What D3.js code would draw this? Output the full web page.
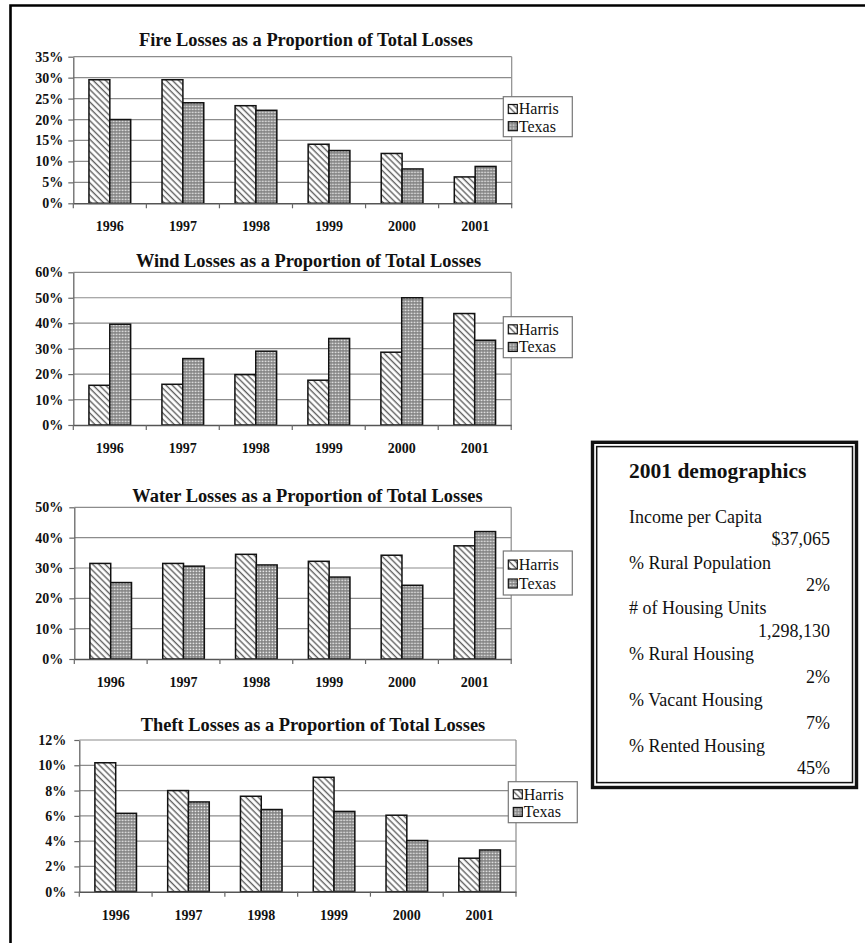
<!DOCTYPE html>
<html>
<head>
<meta charset="utf-8">
<script src="https://cdn.jsdelivr.net/npm/d3@7"></script>
<style>
  html, body { margin: 0; padding: 0; background: #fff; }
  svg { display: block; }
  text { font-family: "Liberation Serif", "Times New Roman", serif; fill: #111; }
</style>
</head>
<body>
<svg id="chart" width="865" height="943"></svg>
<script>
// ---- data ----
const years = ["1996", "1997", "1998", "1999", "2000", "2001"];
const seriesNames = ["Harris", "Texas"];

const fireHarris = [29.5, 29.5, 23.3, 14.1, 11.9, 6.3];
const fireTexas  = [20.0, 24.0, 22.2, 12.6, 8.2, 8.8];
const fireTicks  = [0, 5, 10, 15, 20, 25, 30, 35];

const windHarris = [15.6, 16.0, 19.8, 17.6, 28.6, 43.8];
const windTexas  = [39.6, 26.1, 29.0, 34.0, 50.0, 33.3];
const windTicks  = [0, 10, 20, 30, 40, 50, 60];

const waterHarris = [31.5, 31.5, 34.5, 32.2, 34.2, 37.3];
const waterTexas  = [25.2, 30.6, 31.0, 27.0, 24.3, 42.0];
const waterTicks  = [0, 10, 20, 30, 40, 50];

const theftHarris = [10.2, 8.0, 7.55, 9.05, 6.05, 2.65];
const theftTexas  = [6.2, 7.1, 6.5, 6.35, 4.05, 3.3];
const theftTicks  = [0, 2, 4, 6, 8, 10, 12];

const chartTitles = [
  "Fire Losses as a Proportion of Total Losses",
  "Wind Losses as a Proportion of Total Losses",
  "Water Losses as a Proportion of Total Losses",
  "Theft Losses as a Proportion of Total Losses"
];

const demoTitle  = "2001 demographics";
const demoLabels = ["Income per Capita", "% Rural Population", "# of Housing Units",
                    "% Rural Housing", "% Vacant Housing", "% Rented Housing"];
const demoValues = ["$37,065", "2%", "1,298,130", "2%", "7%", "45%"];

// ---- layout ----
const panels = [
  { harris: fireHarris,  texas: fireTexas,  ticks: fireTicks,
    x0: 73.3, x1: 511.7, top: 56.7, bottom: 203.3, titleX: 306, titleY: 45.7, gap: 10,
    lx: 503.3, ly: 96.7, lw: 69, lh: 40 },
  { harris: windHarris,  texas: windTexas,  ticks: windTicks,
    x0: 73.3, x1: 511.2, top: 272.3, bottom: 425, titleX: 308.5, titleY: 266.7, gap: 10,
    lx: 503.3, ly: 316.7, lw: 69, lh: 41 },
  { harris: waterHarris, texas: waterTexas, ticks: waterTicks,
    x0: 74.3, x1: 511.2, top: 507.3, bottom: 659, titleX: 307.5, titleY: 501.7, gap: 11,
    lx: 503.3, ly: 551, lw: 69, lh: 44 },
  { harris: theftHarris, texas: theftTexas, ticks: theftTicks,
    x0: 79.3, x1: 516, top: 740, bottom: 891.7, titleX: 313, titleY: 731, gap: 13,
    lx: 508.3, ly: 781.7, lw: 69, lh: 41 }
];

const svg = d3.select("#chart");
svg.append("rect").attr("width", 865).attr("height", 943).attr("fill", "#fff");

// ---- fill patterns ----
const defs = svg.append("defs");
const hatch = defs.append("pattern")
  .attr("id", "hatch").attr("patternUnits", "userSpaceOnUse")
  .attr("width", 4.4).attr("height", 4.4)
  .attr("patternTransform", "rotate(-45)");
hatch.append("rect").attr("width", 4.4).attr("height", 4.4).attr("fill", "#fff");
hatch.append("line").attr("x1", 1.2).attr("y1", 0).attr("x2", 1.2).attr("y2", 4.4)
  .attr("stroke", "#5f5f5f").attr("stroke-width", 1.4);

const dots = defs.append("pattern")
  .attr("id", "dots").attr("patternUnits", "userSpaceOnUse")
  .attr("width", 3).attr("height", 3);
dots.append("rect").attr("width", 3).attr("height", 3).attr("fill", "#808080");
dots.append("rect").attr("x", 0.6).attr("y", 0.6).attr("width", 1.6).attr("height", 1.6).attr("fill", "#ececec");

const fills = { Harris: "url(#hatch)", Texas: "url(#dots)" };

// ---- outer frame (open on the right and bottom) ----
svg.append("path")
  .attr("d", d3.line()([[10.5, 943], [10.5, 5.5], [865, 5.5]]))
  .attr("fill", "none").attr("stroke", "#000").attr("stroke-width", 2.6);

// ---- one bar chart per panel ----
panels.forEach((p, i) => {
  const g = svg.append("g");
  const x = d3.scaleBand().domain(years).range([p.x0, p.x1]);
  const xs = d3.scaleBand().domain(seriesNames).range([0, x.bandwidth()])
    .paddingInner(0).paddingOuter(0.75);
  const yMax = p.ticks[p.ticks.length - 1];
  const y = d3.scaleLinear().domain([0, yMax]).range([p.bottom, p.top]);

  // gridlines
  g.selectAll("line.grid").data(p.ticks.filter(t => t > 0)).join("line")
    .attr("class", "grid")
    .attr("x1", p.x0).attr("x2", p.x1)
    .attr("y1", d => y(d)).attr("y2", d => y(d))
    .attr("stroke", "#8c8c8c").attr("stroke-width", 1.2);
  // plot area right edge
  g.append("line")
    .attr("x1", p.x1).attr("x2", p.x1).attr("y1", p.top).attr("y2", p.bottom)
    .attr("stroke", "#8c8c8c").attr("stroke-width", 1.2);

  // bars
  const rows = years.map((yr, k) => ({ year: yr, values: [
    { name: "Harris", v: p.harris[k] }, { name: "Texas", v: p.texas[k] }] }));
  g.selectAll("g.year").data(rows).join("g")
    .attr("class", "year")
    .attr("transform", d => `translate(${x(d.year)},0)`)
    .selectAll("rect").data(d => d.values).join("rect")
    .attr("x", d => xs(d.name))
    .attr("y", d => y(d.v))
    .attr("width", xs.bandwidth())
    .attr("height", d => y(0) - y(d.v))
    .attr("fill", d => fills[d.name])
    .attr("stroke", "#111").attr("stroke-width", 1.5);

  // y axis
  const ya = g.append("g")
    .attr("transform", `translate(${p.x0},0)`)
    .call(d3.axisLeft(y).tickValues(p.ticks).tickFormat(d => d + "%")
      .tickSize(5).tickSizeOuter(0).tickPadding(p.gap - 5));
  ya.select(".domain").attr("stroke", "#666").attr("stroke-width", 1.3);
  ya.selectAll(".tick line").attr("stroke", "#666").attr("stroke-width", 1.2);
  ya.selectAll(".tick text")
    .style("font-family", "'Liberation Serif', serif")
    .style("font-weight", "bold").style("font-size", "14px").attr("fill", "#222");

  // x axis: baseline, boundary ticks, year labels
  const xa = g.append("g").attr("transform", `translate(0,${p.bottom})`)
    .call(d3.axisBottom(x).tickSize(0).tickPadding(18));
  xa.select(".domain").attr("stroke", "#555").attr("stroke-width", 1.4);
  xa.selectAll(".tick text")
    .style("font-family", "'Liberation Serif', serif")
    .style("font-weight", "bold").style("font-size", "14px").attr("fill", "#222");
  const bounds = years.map(yr => x(yr)).concat([p.x1]);
  g.selectAll("line.xtick").data(bounds).join("line")
    .attr("class", "xtick")
    .attr("x1", d => d).attr("x2", d => d)
    .attr("y1", p.bottom).attr("y2", p.bottom + 5)
    .attr("stroke", "#666").attr("stroke-width", 1.2);

  // title
  g.append("text")
    .attr("x", p.titleX).attr("y", p.titleY)
    .attr("text-anchor", "middle")
    .style("font-weight", "bold").style("font-size", "18.4px")
    .text(chartTitles[i]);

  // legend
  const lg = g.append("g").attr("transform", `translate(${p.lx},${p.ly})`);
  lg.append("rect").attr("width", p.lw).attr("height", p.lh)
    .attr("fill", "#fff").attr("stroke", "#777").attr("stroke-width", 1.2);
  const rowY = [p.lh * 0.32, p.lh * 0.75];
  seriesNames.forEach((name, k) => {
    lg.append("rect")
      .attr("x", 5).attr("y", rowY[k] - 5).attr("width", 9).attr("height", 9)
      .attr("fill", fills[name]).attr("stroke", "#111").attr("stroke-width", 1.2);
    lg.append("text")
      .attr("x", 15.5).attr("y", rowY[k] + 5)
      .style("font-size", "16px")
      .text(name);
  });
});

// ---- demographics box ----
const box = svg.append("g");
box.append("rect")
  .attr("x", 592.5).attr("y", 442.3).attr("width", 264).attr("height", 345.2)
  .attr("fill", "#fff").attr("stroke", "#111").attr("stroke-width", 3.4);
box.append("rect")
  .attr("x", 596.7).attr("y", 446.6).attr("width", 255.8).attr("height", 336)
  .attr("fill", "none").attr("stroke", "#111").attr("stroke-width", 1.5);

box.append("text")
  .attr("x", 629).attr("y", 478)
  .style("font-weight", "bold").style("font-size", "21.5px")
  .text(demoTitle);

const lineStep = 45.8;
box.selectAll("text.dlabel").data(demoLabels).join("text")
  .attr("class", "dlabel")
  .attr("x", 629).attr("y", (d, k) => 522.7 + k * lineStep)
  .style("font-size", "18px")
  .text(d => d);
box.selectAll("text.dvalue").data(demoValues).join("text")
  .attr("class", "dvalue")
  .attr("x", 830).attr("y", (d, k) => 545.3 + k * lineStep)
  .attr("text-anchor", "end")
  .style("font-size", "18px")
  .text(d => d);
</script>
</body>
</html>
